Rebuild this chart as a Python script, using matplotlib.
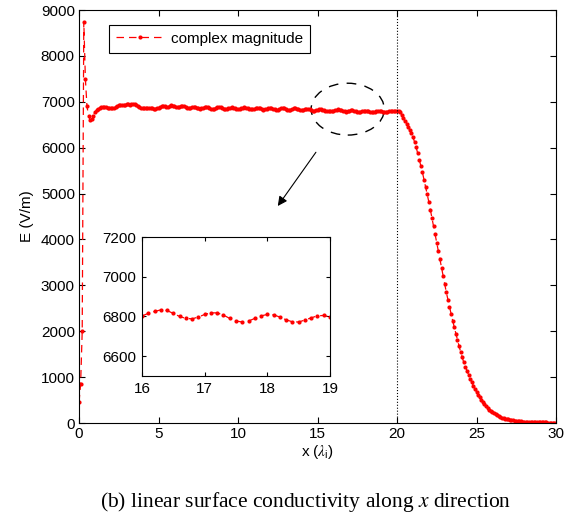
import numpy as np
import matplotlib
matplotlib.use("Agg")
import matplotlib.pyplot as plt
from matplotlib.patches import Ellipse

plt.rcParams['font.family'] = ['Liberation Sans', 'DejaVu Sans']
plt.rcParams['mathtext.fontset'] = 'stix'

# sampling step along x (in lambda_i)
dx = 0.1

# x = 0.0 ... 0.9  (source spike)
E_start = [450, 850, 2000, 8750, 7500, 6900, 6700, 6600, 6620, 6700]

# x = 1.0 ... 15.9  (plateau with ripple)
E_plateau = [
    6770, 6820, 6850, 6870, 6880, 6885, 6890, 6885, 6870, 6860,
    6855, 6860, 6875, 6895, 6910, 6920, 6925, 6930, 6935, 6940,
    6945, 6945, 6940, 6945, 6950, 6945, 6930, 6910, 6890, 6870,
    6860, 6855, 6860, 6870, 6875, 6870, 6860, 6850, 6850, 6860,
    6875, 6890, 6900, 6905, 6900, 6890, 6895, 6910, 6920, 6915,
    6900, 6885, 6880, 6890, 6905, 6910, 6900, 6880, 6865, 6860,
    6870, 6885, 6895, 6890, 6875, 6860, 6850, 6855, 6870, 6885,
    6890, 6880, 6865, 6850, 6845, 6850, 6865, 6880, 6885, 6880,
    6865, 6850, 6840, 6845, 6860, 6875, 6880, 6875, 6860, 6845,
    6835, 6840, 6855, 6870, 6880, 6875, 6860, 6845, 6835, 6835,
    6850, 6865, 6875, 6870, 6855, 6840, 6830, 6835, 6850, 6865,
    6870, 6865, 6850, 6835, 6825, 6830, 6845, 6860, 6865, 6855,
    6840, 6825, 6820, 6825, 6840, 6855, 6860, 6850, 6835, 6820,
    6815, 6825, 6840, 6850, 6850, 6840, 6825, 6810, 6805, 6815,
    6830, 6840, 6840, 6830, 6815, 6805, 6798, 6792, 6790, 6795,
]

# x = 16.0 ... 19.9  (zoomed region)
E_inset = [
    6803, 6815, 6825, 6833, 6830, 6815, 6800, 6790, 6788, 6797,
    6810, 6818, 6818, 6807, 6790, 6777, 6772, 6777, 6790, 6803,
    6810, 6808, 6797, 6783, 6773, 6772, 6782, 6793, 6803, 6805,
    6797, 6785, 6775, 6772, 6778, 6790, 6800, 6805, 6805, 6800,
]

# x = 20.0 ... 30.0  (decay outside the conductive region)
E_decay = [
    6800, 6795, 6770, 6720, 6650, 6580, 6520, 6460, 6390, 6310,
    6230, 6130, 6010, 5880, 5740, 5600, 5460, 5300, 5150, 4990,
    4820, 4640, 4470, 4290, 4110, 3930, 3750, 3570, 3380, 3200,
    3020, 2850, 2690, 2530, 2380, 2230, 2090, 1950, 1810, 1680,
    1550, 1430, 1320, 1230, 1140, 1050, 970, 890, 815, 745,
    680, 620, 565, 510, 460, 410, 365, 325, 290, 260,
    235, 210, 190, 170, 150, 135, 120, 108, 96, 86,
    78, 70, 62, 56, 50, 45, 41, 37, 34, 31,
    28, 26, 24, 22, 21, 20, 19, 18, 17, 16,
    15, 14, 13, 12, 12, 11, 11, 10, 10, 9, 9,
]

E = np.array(E_start + E_plateau + E_inset + E_decay, dtype=float)
x = np.arange(len(E)) * dx

red = '#ff0000'
style = dict(color=red, linestyle='--', dashes=(6, 4), linewidth=0.9,
             marker='o', markersize=3.0, markeredgewidth=0)

fs = 11
fig = plt.figure(figsize=(5.76, 5.2), dpi=100)
ax = fig.add_axes([0.1372, 0.1865, 0.8281, 0.7942])
ax.plot(x, E, label='complex magnitude', **style)
ax.axvline(20, color='k', linestyle=':', linewidth=0.8)
ax.set_xlim(0, 30)
ax.set_ylim(0, 9000)
ax.set_xticks(np.arange(0, 31, 5))
ax.set_yticks(np.arange(0, 9001, 1000))
ax.tick_params(direction='in', top=True, right=True, labelsize=fs, length=4, pad=3)
ax.set_xlabel(r'x ($\lambda_\mathregular{i}$)', fontsize=fs, labelpad=1)
ax.set_ylabel('E (V/m)', fontsize=fs, labelpad=5)
for s in ax.spines.values():
    s.set_linewidth(0.8)

leg = ax.legend(loc='upper left', bbox_to_anchor=(0.063, 0.964), fontsize=fs,
                fancybox=False, framealpha=1, edgecolor='k',
                handlelength=3.1, handletextpad=0.5, borderpad=0.45,
                borderaxespad=0)
leg.get_frame().set_linewidth(0.8)

# dashed ellipse around the zoomed region
ell = Ellipse((16.9, 6840), 4.6, 1130, fill=False, edgecolor='k',
              linestyle=(0, (7, 6)), linewidth=1.0)
ax.add_patch(ell)
ax.annotate('', xy=(12.4, 4680), xytext=(15.0, 5950),
            arrowprops=dict(arrowstyle='-|>', color='k', linewidth=0.8,
                            mutation_scale=14))

# inset
axi = fig.add_axes([0.2465, 0.2769, 0.3264, 0.2673])
axi.plot(x, E, **style)
axi.set_xlim(16, 19)
axi.set_ylim(6500, 7200)
axi.set_xticks([16, 17, 18, 19])
axi.set_yticks([6600, 6800, 7000, 7200])
axi.tick_params(direction='in', top=True, right=True, labelsize=fs, length=3, pad=4)
for s in axi.spines.values():
    s.set_linewidth(0.8)

fig.text(0.53, 0.035, r'(b) linear surface conductivity along $x$ direction',
         ha='center', va='center', fontsize=15.5, family='Liberation Serif')

fig.savefig('out.png', dpi=100)
